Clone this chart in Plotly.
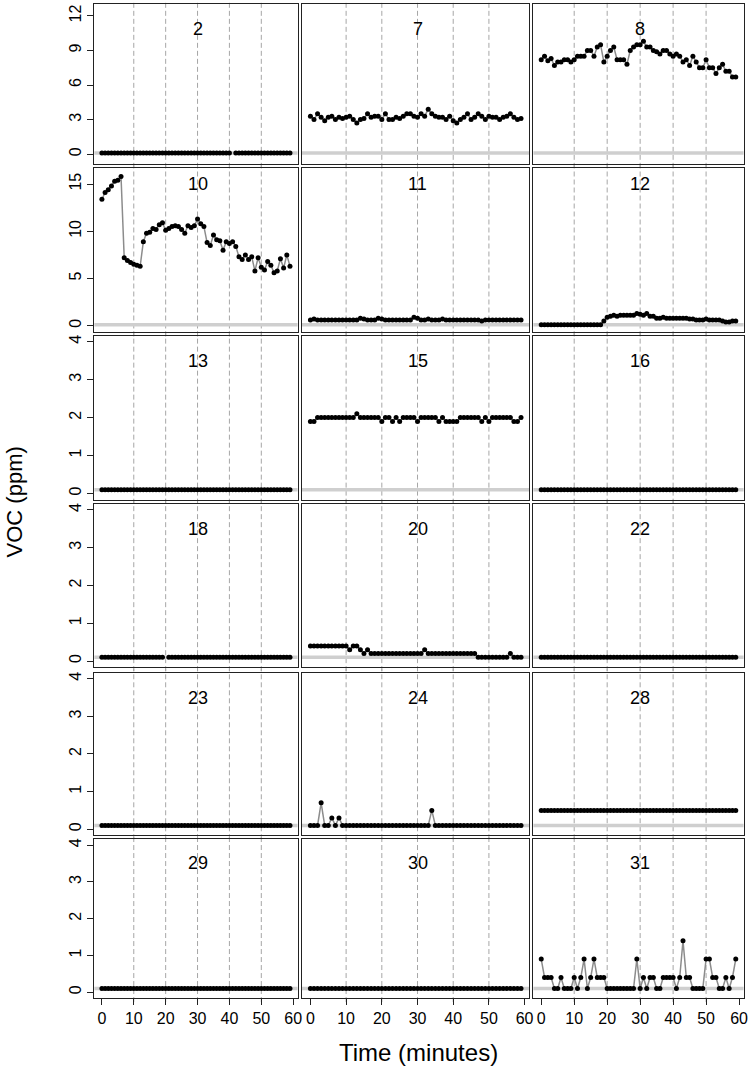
import plotly.graph_objects as go

# ---------------------------------------------------------------- data
minutes = list(range(60))

voc_2 = [0.1, 0.1, 0.1, 0.1, 0.1, 0.1, 0.1, 0.1, 0.1, 0.1, 0.1, 0.1, 0.1, 0.1, 0.1, 0.1, 0.1, 0.1, 0.1, 0.1,
         0.1, 0.1, 0.1, 0.1, 0.1, 0.1, 0.1, 0.1, 0.1, 0.1, 0.1, 0.1, 0.1, 0.1, 0.1, 0.1, 0.1, 0.1, 0.1, 0.1,
         0.1, None, 0.1, 0.1, 0.1, 0.1, 0.1, 0.1, 0.1, 0.1, 0.1, 0.1, 0.1, 0.1, 0.1, 0.1, 0.1, 0.1, 0.1, 0.1]
voc_7 = [3.3, 3.0, 3.5, 3.2, 2.9, 3.2, 3.3, 3.0, 3.2, 3.1, 3.2, 3.3, 3.0, 2.7, 3.0, 3.1, 3.5, 3.2, 3.3, 3.3,
         3.0, 3.5, 3.0, 3.0, 3.2, 3.1, 3.3, 3.5, 3.5, 3.3, 3.2, 3.5, 3.3, 3.9, 3.5, 3.3, 3.2, 3.2, 3.0, 3.3,
         2.9, 2.7, 3.0, 3.2, 3.5, 3.0, 3.2, 3.5, 3.3, 3.0, 3.3, 3.2, 3.2, 3.0, 3.2, 3.3, 3.5, 3.2, 3.0, 3.1]
voc_8 = [8.2, 8.5, 8.1, 8.3, 7.7, 8.0, 8.0, 8.2, 8.2, 8.0, 8.2, 8.5, 8.5, 8.5, 9.0, 9.0, 8.5, 9.3, 9.5, 8.0,
         8.5, 9.0, 9.3, 8.2, 8.2, 8.2, 7.8, 9.0, 9.3, 9.5, 9.5, 9.8, 9.3, 9.3, 9.0, 8.9, 8.7, 9.0, 9.0, 8.7,
         8.5, 8.7, 8.5, 8.0, 8.2, 7.7, 8.5, 8.0, 7.5, 7.5, 8.2, 7.5, 7.5, 7.0, 7.5, 7.8, 7.2, 7.2, 6.7, 6.7]
voc_10 = [13.4, 14.1, 14.4, 14.8, 15.3, 15.4, 15.8, 7.2, 6.9, 6.7, 6.5, 6.4, 6.3, 8.9, 9.8, 9.9, 10.3, 10.2, 10.7, 10.9,
          10.1, 10.3, 10.5, 10.6, 10.5, 10.2, 9.8, 10.6, 10.4, 10.6, 11.3, 10.8, 10.5, 8.8, 8.5, 9.6, 9.1, 9.0, 8.0, 8.9,
          8.7, 8.9, 8.4, 7.3, 7.0, 7.5, 7.0, 7.3, 5.8, 7.2, 6.2, 5.9, 6.8, 6.4, 5.6, 5.8, 7.1, 6.1, 7.5, 6.3]
voc_11 = [0.6, 0.7, 0.6, 0.6, 0.6, 0.6, 0.6, 0.6, 0.6, 0.6, 0.6, 0.6, 0.6, 0.6, 0.8, 0.7, 0.6, 0.6, 0.6, 0.8,
          0.7, 0.6, 0.6, 0.6, 0.6, 0.6, 0.6, 0.6, 0.6, 0.9, 0.8, 0.6, 0.6, 0.7, 0.6, 0.6, 0.6, 0.7, 0.6, 0.6,
          0.6, 0.6, 0.6, 0.6, 0.6, 0.6, 0.6, 0.6, 0.5, 0.6, 0.6, 0.6, 0.6, 0.6, 0.6, 0.6, 0.6, 0.6, 0.6, 0.6]
voc_12 = [0.1, 0.1, 0.1, 0.1, 0.1, 0.1, 0.1, 0.1, 0.1, 0.1, 0.1, 0.1, 0.1, 0.1, 0.1, 0.1, 0.1, 0.1, 0.1, 0.5,
          0.9, 1.0, 1.1, 1.0, 1.1, 1.1, 1.1, 1.1, 1.1, 1.3, 1.2, 1.1, 1.3, 1.0, 1.0, 0.8, 0.8, 0.9, 0.8, 0.8,
          0.8, 0.8, 0.8, 0.8, 0.8, 0.7, 0.7, 0.6, 0.6, 0.6, 0.7, 0.6, 0.6, 0.6, 0.6, 0.5, 0.4, 0.4, 0.5, 0.5]
voc_13 = [0.1, 0.1, 0.1, 0.1, 0.1, 0.1, 0.1, 0.1, 0.1, 0.1, 0.1, 0.1, 0.1, 0.1, 0.1, 0.1, 0.1, 0.1, 0.1, 0.1,
          0.1, 0.1, 0.1, 0.1, 0.1, 0.1, 0.1, 0.1, 0.1, 0.1, 0.1, 0.1, 0.1, 0.1, 0.1, 0.1, 0.1, 0.1, 0.1, 0.1,
          0.1, 0.1, 0.1, 0.1, 0.1, 0.1, 0.1, 0.1, 0.1, 0.1, 0.1, 0.1, 0.1, 0.1, 0.1, 0.1, 0.1, 0.1, 0.1, 0.1]
voc_15 = [1.9, 1.9, 2.0, 2.0, 2.0, 2.0, 2.0, 2.0, 2.0, 2.0, 2.0, 2.0, 2.0, 2.1, 2.0, 2.0, 2.0, 2.0, 2.0, 2.0,
          1.9, 2.0, 2.0, 1.9, 2.0, 1.9, 2.0, 2.0, 2.0, 2.0, 1.9, 2.0, 2.0, 2.0, 2.0, 2.0, 1.9, 2.0, 1.9, 1.9,
          1.9, 1.9, 2.0, 2.0, 2.0, 2.0, 2.0, 2.0, 1.9, 2.0, 1.9, 2.0, 2.0, 2.0, 2.0, 2.0, 2.0, 1.9, 1.9, 2.0]
voc_16 = [0.1, 0.1, 0.1, 0.1, 0.1, 0.1, 0.1, 0.1, 0.1, 0.1, 0.1, 0.1, 0.1, 0.1, 0.1, 0.1, 0.1, 0.1, 0.1, 0.1,
          0.1, 0.1, 0.1, 0.1, 0.1, 0.1, 0.1, 0.1, 0.1, 0.1, 0.1, 0.1, 0.1, 0.1, 0.1, 0.1, 0.1, 0.1, 0.1, 0.1,
          0.1, 0.1, 0.1, 0.1, 0.1, 0.1, 0.1, 0.1, 0.1, 0.1, 0.1, 0.1, 0.1, 0.1, 0.1, 0.1, 0.1, 0.1, 0.1, 0.1]
voc_18 = [0.1, 0.1, 0.1, 0.1, 0.1, 0.1, 0.1, 0.1, 0.1, 0.1, 0.1, 0.1, 0.1, 0.1, 0.1, 0.1, 0.1, 0.1, 0.1, 0.1,
          None, 0.1, 0.1, 0.1, 0.1, 0.1, 0.1, 0.1, 0.1, 0.1, 0.1, 0.1, 0.1, 0.1, 0.1, 0.1, 0.1, 0.1, 0.1, 0.1,
          0.1, 0.1, 0.1, 0.1, 0.1, 0.1, 0.1, 0.1, 0.1, 0.1, 0.1, 0.1, 0.1, 0.1, 0.1, 0.1, 0.1, 0.1, 0.1, 0.1]
voc_20 = [0.4, 0.4, 0.4, 0.4, 0.4, 0.4, 0.4, 0.4, 0.4, 0.4, 0.4, 0.3, 0.4, 0.4, 0.3, 0.2, 0.3, 0.2, 0.2, 0.2,
          0.2, 0.2, 0.2, 0.2, 0.2, 0.2, 0.2, 0.2, 0.2, 0.2, 0.2, 0.2, 0.3, 0.2, 0.2, 0.2, 0.2, 0.2, 0.2, 0.2,
          0.2, 0.2, 0.2, 0.2, 0.2, 0.2, 0.2, 0.1, 0.1, 0.1, 0.1, 0.1, 0.1, 0.1, 0.1, 0.1, 0.2, 0.1, 0.1, 0.1]
voc_22 = [0.1, 0.1, 0.1, 0.1, 0.1, 0.1, 0.1, 0.1, 0.1, 0.1, 0.1, 0.1, 0.1, 0.1, 0.1, 0.1, 0.1, 0.1, 0.1, 0.1,
          0.1, 0.1, 0.1, 0.1, 0.1, 0.1, 0.1, 0.1, 0.1, 0.1, 0.1, 0.1, 0.1, 0.1, 0.1, 0.1, 0.1, 0.1, 0.1, 0.1,
          0.1, 0.1, 0.1, 0.1, 0.1, 0.1, 0.1, 0.1, 0.1, 0.1, 0.1, 0.1, 0.1, 0.1, 0.1, 0.1, 0.1, 0.1, 0.1, 0.1]
voc_23 = [0.1, 0.1, 0.1, 0.1, 0.1, 0.1, 0.1, 0.1, 0.1, 0.1, 0.1, 0.1, 0.1, 0.1, 0.1, 0.1, 0.1, 0.1, 0.1, 0.1,
          0.1, 0.1, 0.1, 0.1, 0.1, 0.1, 0.1, 0.1, 0.1, 0.1, 0.1, 0.1, 0.1, 0.1, 0.1, 0.1, 0.1, 0.1, 0.1, 0.1,
          0.1, 0.1, 0.1, 0.1, 0.1, 0.1, 0.1, 0.1, 0.1, 0.1, 0.1, 0.1, 0.1, 0.1, 0.1, 0.1, 0.1, 0.1, 0.1, 0.1]
voc_24 = [0.1, 0.1, 0.1, 0.7, 0.1, 0.1, 0.3, 0.1, 0.3, 0.1, 0.1, 0.1, 0.1, 0.1, 0.1, 0.1, 0.1, 0.1, 0.1, 0.1,
          0.1, 0.1, 0.1, 0.1, 0.1, 0.1, 0.1, 0.1, 0.1, 0.1, 0.1, 0.1, 0.1, 0.1, 0.5, 0.1, 0.1, 0.1, 0.1, 0.1,
          0.1, 0.1, 0.1, 0.1, 0.1, 0.1, 0.1, 0.1, 0.1, 0.1, 0.1, 0.1, 0.1, 0.1, 0.1, 0.1, 0.1, 0.1, 0.1, 0.1]
voc_28 = [0.5, 0.5, 0.5, 0.5, 0.5, 0.5, 0.5, 0.5, 0.5, 0.5, 0.5, 0.5, 0.5, 0.5, 0.5, 0.5, 0.5, 0.5, 0.5, 0.5,
          0.5, 0.5, 0.5, 0.5, 0.5, 0.5, 0.5, 0.5, 0.5, 0.5, 0.5, 0.5, 0.5, 0.5, 0.5, 0.5, 0.5, 0.5, 0.5, 0.5,
          0.5, 0.5, 0.5, 0.5, 0.5, 0.5, 0.5, 0.5, 0.5, 0.5, 0.5, 0.5, 0.5, 0.5, 0.5, 0.5, 0.5, 0.5, 0.5, 0.5]
voc_29 = [0.1, 0.1, 0.1, 0.1, 0.1, 0.1, 0.1, 0.1, 0.1, 0.1, 0.1, 0.1, 0.1, 0.1, 0.1, 0.1, 0.1, 0.1, 0.1, 0.1,
          0.1, 0.1, 0.1, 0.1, 0.1, 0.1, 0.1, 0.1, 0.1, 0.1, 0.1, 0.1, 0.1, 0.1, 0.1, 0.1, 0.1, 0.1, 0.1, 0.1,
          0.1, 0.1, 0.1, 0.1, 0.1, 0.1, 0.1, 0.1, 0.1, 0.1, 0.1, 0.1, 0.1, 0.1, 0.1, 0.1, 0.1, 0.1, 0.1, 0.1]
voc_30 = [0.1, 0.1, 0.1, 0.1, 0.1, 0.1, 0.1, 0.1, 0.1, 0.1, 0.1, 0.1, 0.1, 0.1, 0.1, 0.1, 0.1, 0.1, 0.1, 0.1,
          0.1, 0.1, 0.1, 0.1, 0.1, 0.1, 0.1, 0.1, 0.1, 0.1, 0.1, 0.1, 0.1, 0.1, 0.1, 0.1, 0.1, 0.1, 0.1, 0.1,
          0.1, 0.1, 0.1, 0.1, 0.1, 0.1, 0.1, 0.1, 0.1, 0.1, 0.1, 0.1, 0.1, 0.1, 0.1, 0.1, 0.1, 0.1, 0.1, 0.1]
voc_31 = [0.9, 0.4, 0.4, 0.4, 0.1, 0.1, 0.4, 0.1, 0.1, 0.1, 0.4, 0.1, 0.4, 0.9, 0.1, 0.4, 0.9, 0.4, 0.4, 0.4,
          0.1, 0.1, 0.1, 0.1, 0.1, 0.1, 0.1, 0.1, 0.1, 0.9, 0.1, 0.4, 0.1, 0.4, 0.4, 0.1, 0.1, 0.4, 0.4, 0.4,
          0.4, 0.1, 0.4, 1.4, 0.4, 0.4, 0.1, 0.1, 0.1, 0.1, 0.9, 0.9, 0.4, 0.4, 0.1, 0.1, 0.4, 0.1, 0.4, 0.9]

panels = [("2", voc_2), ("7", voc_7), ("8", voc_8),
          ("10", voc_10), ("11", voc_11), ("12", voc_12),
          ("13", voc_13), ("15", voc_15), ("16", voc_16),
          ("18", voc_18), ("20", voc_20), ("22", voc_22),
          ("23", voc_23), ("24", voc_24), ("28", voc_28),
          ("29", voc_29), ("30", voc_30), ("31", voc_31)]

detect_limit = 0.1
x_ticks = [0, 10, 20, 30, 40, 50, 60]
x_guides = [10, 20, 30, 40, 50]

# per row: y range, y ticks, y position of panel number
row_ranges = [[-0.84, 13.01], [-0.71, 16.69], [-0.16, 4.16], [-0.16, 4.16], [-0.16, 4.16], [-0.16, 4.16]]
row_ticks = [[0, 3, 6, 9, 12], [0, 5, 10, 15], [0, 1, 2, 3, 4], [0, 1, 2, 3, 4], [0, 1, 2, 3, 4], [0, 1, 2, 3, 4]]
row_label_y = [10.9, 15.0, 3.5, 3.5, 3.5, 3.5]

# ---------------------------------------------------------------- geometry (pixels)
W, H = 755, 1071
col_px = [(95, 299.5), (304, 533), (537, 748.5)]
row_px = [(3.3, 163), (167.3, 331.7), (335, 499), (503.3, 666.7), (672.3, 835), (839, 998)]
FONT = "Liberation Sans, Arial, sans-serif"

fig = go.Figure()
layout = {}
shapes, annotations = [], []

for i, (label, vals) in enumerate(panels):
    r, c = divmod(i, 3)
    n = i + 1
    xa, ya = ("x", "y") if n == 1 else (f"x{n}", f"y{n}")
    xl, xr = col_px[c]
    yt, yb = row_px[r]

    fig.add_trace(go.Scatter(
        x=minutes, y=vals, mode="lines+markers",
        line=dict(color="#8c8c8c", width=1.5),
        marker=dict(color="black", size=5),
        xaxis=xa, yaxis=ya, showlegend=False, hoverinfo="skip"))

    bottom = r == 5
    layout[f"xaxis{n}"] = dict(
        domain=[xl / W, xr / W], anchor=ya, range=[-2.36, 61.36],
        showgrid=False, zeroline=False, showline=True, mirror=True,
        linecolor="#222", linewidth=1,
        tickvals=x_ticks, ticks="outside" if bottom else "", ticklen=6,
        tickcolor="#222", showticklabels=bottom,
        tickfont=dict(size=16, color="black", family=FONT))
    layout[f"yaxis{n}"] = dict(
        domain=[1 - yb / H, 1 - yt / H], anchor=xa, range=row_ranges[r],
        showgrid=False, zeroline=False, showline=True, mirror=True,
        linecolor="#222", linewidth=1,
        tickvals=row_ticks[r], ticks="outside" if c == 0 else "", ticklen=6,
        tickcolor="#222", showticklabels=(c == 0), tickangle=-90,
        tickfont=dict(size=16, color="black", family=FONT))

    # dashed time guides and the grey detection-limit line
    for g in x_guides:
        shapes.append(dict(type="line", xref=xa, yref=f"{ya} domain",
                           x0=g, x1=g, y0=-0.025, y1=1.025, layer="below",
                           line=dict(color="#a6a6a6", width=1, dash="5px,3px")))
    shapes.append(dict(type="line", xref=f"{xa} domain", yref=ya,
                       x0=0, x1=1, y0=detect_limit, y1=detect_limit, layer="below",
                       line=dict(color="#cfcfcf", width=3.5)))

    annotations.append(dict(text=label, xref=xa, yref=ya, x=30, y=row_label_y[r],
                            showarrow=False, font=dict(size=18, color="black", family=FONT)))

# axis titles
annotations.append(dict(text="VOC (ppm)", xref="paper", yref="paper",
                        x=15 / W, y=1 - 501 / H, xanchor="center", yanchor="middle",
                        textangle=-90, showarrow=False,
                        font=dict(size=22, color="black", family=FONT)))
annotations.append(dict(text="Time (minutes)", xref="paper", yref="paper",
                        x=421 / W, y=1 - 1052 / H, xanchor="center", yanchor="middle",
                        showarrow=False,
                        font=dict(size=24, color="black", family=FONT)))

fig.update_layout(
    width=W, height=H, margin=dict(l=0, r=0, t=0, b=0),
    plot_bgcolor="white", paper_bgcolor="white",
    shapes=shapes, annotations=annotations, **layout)

# page margin off so the figure sits at the window's top-left corner
fig.write_html("out.html", config={"displayModeBar": False},
               post_script="document.body.style.margin='0px';")
